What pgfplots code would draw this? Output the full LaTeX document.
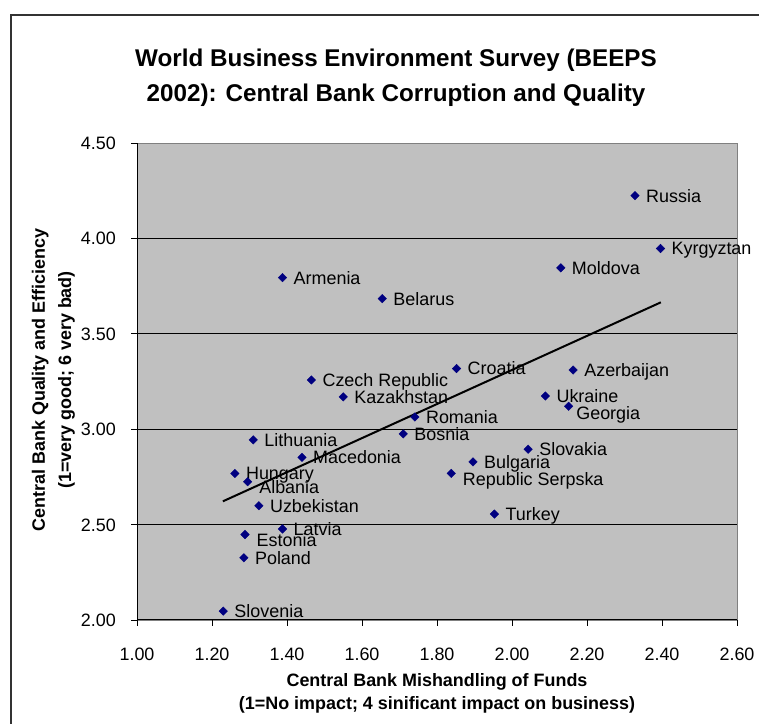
\documentclass[border=0pt]{standalone}
\usepackage{fontspec}
\setmainfont{Liberation Sans}
\usepackage{pgfplots}
\usepackage{pgfplotstable}
\pgfplotsset{compat=1.18}

\definecolor{plotgray}{HTML}{C0C0C0}
\definecolor{framegray}{HTML}{808080}
\definecolor{marknavy}{HTML}{000080}
\definecolor{border}{HTML}{333333}

\newcommand{\lbl}{\fontsize{18}{21}\selectfont}

% country, mishandling of funds (x), quality and efficiency (y)
\pgfplotstableread[col sep=comma]{
name,x,y
Russia,2.328,4.224
Kyrgyztan,2.396,3.947
Moldova,2.130,3.846
Armenia,1.388,3.794
Belarus,1.654,3.684
Croatia,1.852,3.318
Azerbaijan,2.163,3.310
Czech Republic,1.465,3.258
Kazakhstan,1.550,3.169
Ukraine,2.089,3.174
Romania,1.741,3.064
Bosnia,1.710,2.975
Lithuania,1.310,2.944
Slovakia,2.043,2.895
Macedonia,1.440,2.852
Bulgaria,1.896,2.829
Hungary,1.261,2.768
Uzbekistan,1.325,2.599
Turkey,1.953,2.555
Latvia,1.388,2.477
Poland,1.285,2.326
Slovenia,1.230,2.047
}\beeps

% same survey, labels nudged down a little as in the original
\pgfplotstableread[col sep=comma]{
name,x,y
Georgia,2.151,3.120
}\beepsgeo
\pgfplotstableread[col sep=comma]{
name,x,y
Republic Serpska,1.838,2.768
Albania,1.295,2.725
Estonia,1.288,2.448
}\beepslow

\pgfplotsset{
    country/.style={
        only marks, mark=square*, mark size=3bp,
        mark options={rotate=45, fill=marknavy, draw=marknavy},
        nodes near coords, point meta=explicit symbolic,
        every node near coord/.append style={
            anchor=base west, inner sep=0pt, font=\lbl, text=black,
            xshift=#1},
    },
}

\begin{document}
\begin{tikzpicture}
\useasboundingbox (0,0) rectangle (759bp,724bp);
\draw[border, line width=1.7bp] (11bp,-5bp) -- (11bp,709.3bp) -- (770bp,709.3bp);

\begin{axis}[
    at={(137bp,104bp)}, anchor=south west,
    scale only axis, width=600bp, height=477bp,
    xmin=1, xmax=2.6, ymin=2, ymax=4.5,
    xtick={1,1.2,1.4,1.6,1.8,2,2.2,2.4,2.6},
    ytick={2,2.5,3,3.5,4,4.5},
    extra y ticks={2.5,3,3.5,4},
    extra y tick labels={},
    extra y tick style={grid=major, major tick length=0pt},
    grid style={black, line width=0.8bp},
    axis background/.style={fill=plotgray, draw=framegray, line width=0.8bp},
    axis x line*=bottom, axis y line*=left,
    axis line style={-, black, line width=1bp},
    tick align=outside, major tick length=6bp,
    tick style={black, line width=0.8bp},
    tick label style={font=\lbl},
    /pgf/number format/assume math mode=true,
    /pgf/number format/.cd, fixed, fixed zerofill, precision=2, /pgfplots/.cd,
    xticklabel style={anchor=base, inner sep=0pt, yshift=-34.2bp},
    yticklabel style={anchor=base east, inner sep=0pt, xshift=-15bp, yshift=-6.45bp},
    clip=false,
]
\addplot[black, line width=2bp] coordinates {(1.229,2.622) (2.397,3.665)};
\addplot[country=11bp, every node near coord/.append style={yshift=-6.45bp}]
    table[x=x, y=y, meta=name] {\beeps};
\addplot[country=7.5bp, every node near coord/.append style={yshift=-12.7bp}]
    table[x=x, y=y, meta=name] {\beepsgeo};
\addplot[country=11.5bp, every node near coord/.append style={yshift=-11.8bp}]
    table[x=x, y=y, meta=name] {\beepslow};
\end{axis}

% title and axis titles
\node[anchor=base, font=\fontsize{24.3}{28}\selectfont\bfseries] at (396bp,657.3bp)
    {World Business Environment Survey (BEEPS};
\node[anchor=base, font=\fontsize{24.3}{28}\selectfont\bfseries] at (396bp,622.3bp)
    {2002): Central Bank Corruption and Quality};
\node[anchor=base, font=\lbl\bfseries] at (437bp,37.3bp)
    {Central Bank Mishandling of Funds};
\node[anchor=base, font=\lbl\bfseries] at (437bp,15bp)
    {(1=No impact; 4 sinificant impact on business)};
\node[anchor=base, rotate=90, font=\lbl\bfseries] at (44.75bp,344bp)
    {Central Bank Quality and Efficiency};
\node[anchor=base, rotate=90, font=\lbl\bfseries] at (71bp,344bp)
    {(1=very good; 6 very bad)};
\end{tikzpicture}
\end{document}
